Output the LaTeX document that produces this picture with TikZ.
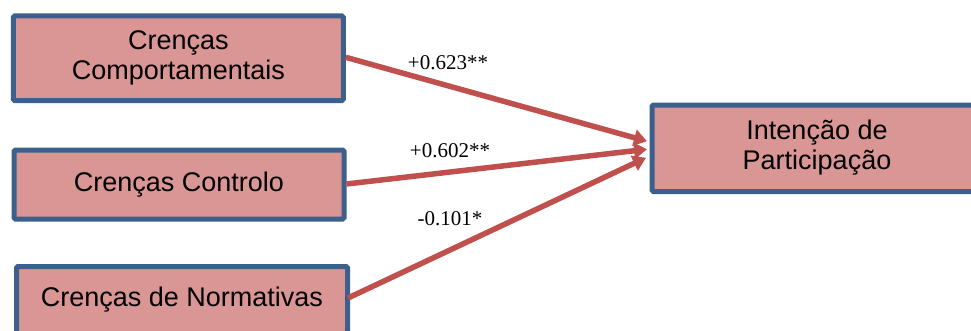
\documentclass[tikz,border=0pt]{standalone}
\usepackage{fontspec}
\setmainfont{Liberation Sans}
\newfontfamily\serifnum{Liberation Serif}
\usetikzlibrary{arrows.meta,calc}
\definecolor{boxfill}{HTML}{D99694}
\definecolor{boxline}{HTML}{3C5F8C}
\definecolor{pathred}{HTML}{C0504D}
% two centred lines, 30pt apart, lowered a little
\newcommand{\twolines}[2]{\raisebox{-3pt}{\begin{tabular}{@{}c@{}}#1\\#2\end{tabular}}}
\begin{document}
\begin{tikzpicture}[x=1pt,y=1pt,
  factor/.style={draw=boxline, fill=boxfill, line width=5pt, rounded corners=1.5pt,
    align=center, inner sep=0pt, font=\fontsize{27}{30}\selectfont},
  path arrow/.style={draw=pathred, line width=5.5pt,
    -{Triangle[length=13pt,width=16pt]}},
  coef/.style={font=\serifnum\fontsize{21}{24}\selectfont, inner sep=0pt}]
  \useasboundingbox (0,0) rectangle (971,330);
  % predictor boxes
  \node[factor, minimum width=330, minimum height=84.7] (b1) at (178.3,271.7)
    {\twolines{Crenças}{Comportamentais}};
  \node[factor, minimum width=330, minimum height=69] (b2) at (179,145.5)
    {Crenças Controlo};
  \node[factor, minimum width=331, minimum height=67] (b3) at (182,30)
    {Crenças de Normativas};
  % outcome box
  \node[factor, minimum width=330, minimum height=86.5] (b4) at (817,181.75)
    {\twolines{Intenção de}{Participação}};
  % arrow end points on the outcome box
  \coordinate (t1) at ($(b4.west)+(-2.5,7)$);
  \coordinate (t2) at ($(b4.west)+(-2.5,-1)$);
  \coordinate (t3) at ($(b4.west)+(-3.5,-9.5)$);
  \coordinate (s1) at ($(b1.east)+(0,1)$);
  \coordinate (s2) at ($(b2.east)+(0,0.5)$);
  \coordinate (s3) at ($(b3.east)+(-2,2)$);
  \draw[path arrow] (s1) -- (t1);
  \draw[path arrow] (s2) -- (t2);
  \draw[path arrow] (s3) -- (t3);
  % coefficients
  \node[coef] (c1) at (448,267) {+0.623**};
  \node[coef] (c2) at (450,179) {+0.602**};
  \node[coef] (c3) at (450,111) {-0.101*};
\end{tikzpicture}
\end{document}
